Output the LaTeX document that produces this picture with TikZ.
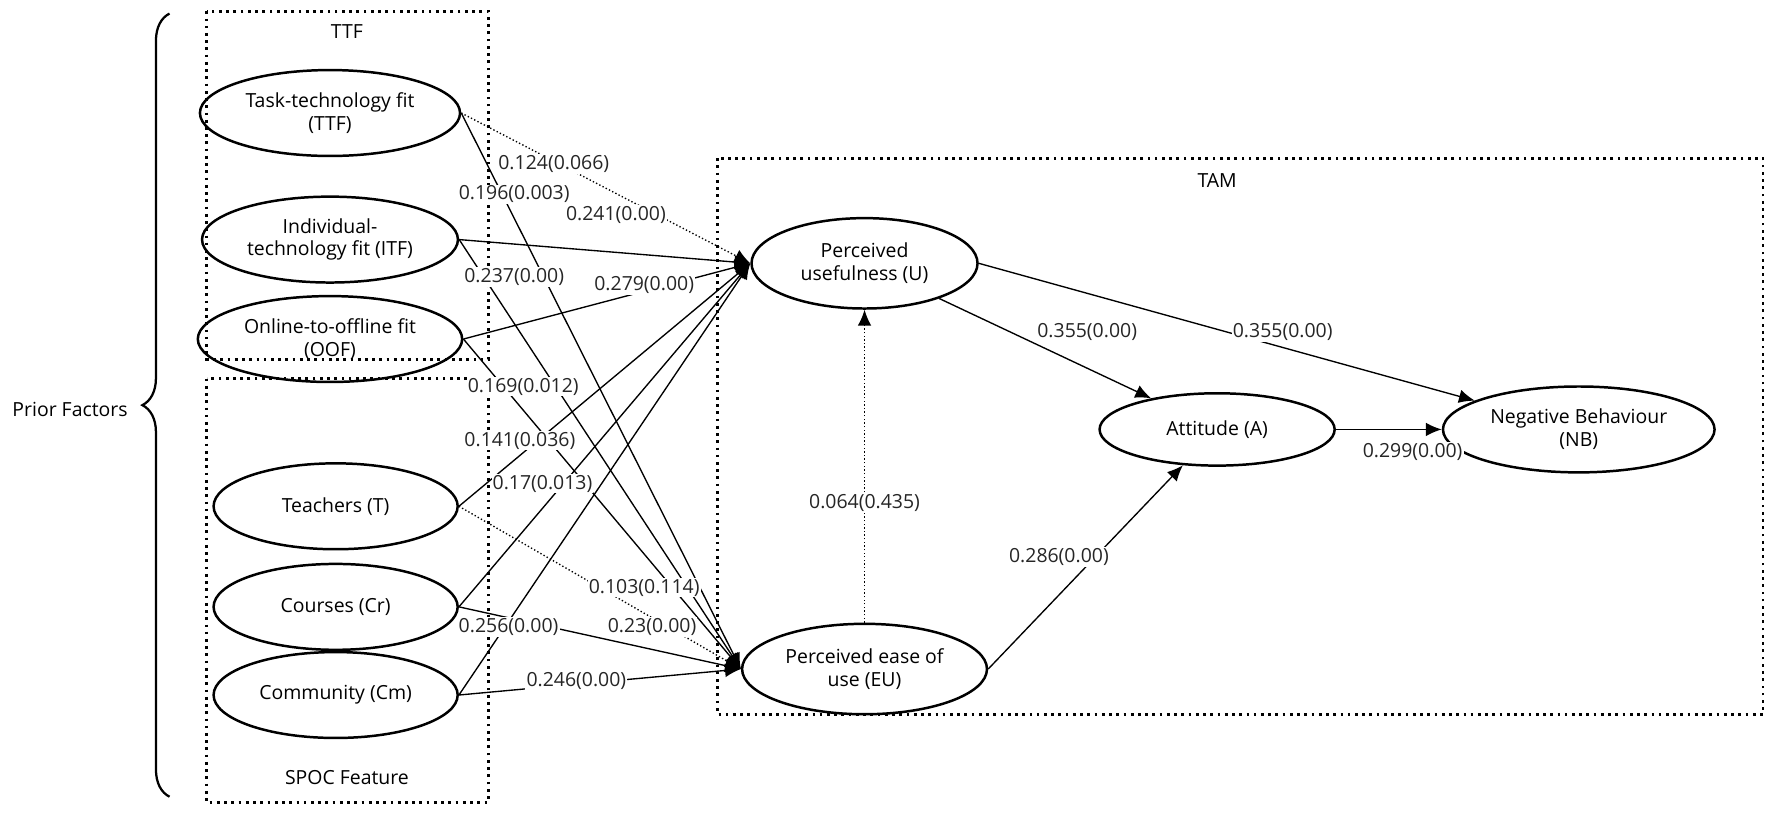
\documentclass[tikz,border=0pt]{standalone}
\usepackage{fontspec}
\setmainfont{Open Sans}
\usetikzlibrary{arrows.meta,shapes.geometric,decorations.pathreplacing}
\begin{document}
\begin{tikzpicture}[x=0.5pt,y=-0.5pt,font=\fontsize{8.6}{10}\selectfont,
  ell/.style={ellipse,draw,line width=1.1pt,minimum width=#1},
  ell/.default=108pt,
  grp/.style={draw,line width=1.2pt,dotted},
  lnk/.style={-{Latex[length=7pt,width=6pt]},line width=0.6pt},
  dlnk/.style={lnk,densely dotted},
  lab/.style={fill=white,inner sep=0.5pt,text=black!85}]
\useasboundingbox (0,0) rectangle (1568,722);
\draw[grp] (183,10) rectangle (432,318);
\draw[grp] (183,335) rectangle (432,710);
\draw[grp] (635,140) rectangle (1560,632);
\node (ttfl) at (307,28) {TTF};
\node (spocl) at (307,688) {SPOC Feature};
\node (taml) at (1077,160) {TAM};
\draw[line width=1pt,decorate,decoration={brace,amplitude=12pt}] (150,705) -- (150,12);
\node (pf) at (62,362) {Prior Factors};
\node[ell,minimum height=38pt,align=center] (TTF) at (292,100) {Task-technology fit\\(TTF)};
\node[ell,minimum height=38pt,align=center] (ITF) at (292,212) {Individual-\\technology fit (ITF)};
\node[ell,minimum height=38pt,align=center] (OOF) at (292,300) {Online-to-offline fit\\(OOF)};
\node[ell,minimum height=38pt] (T) at (297,448) {Teachers (T)};
\node[ell,minimum height=38pt] (Cr) at (297,537) {Courses (Cr)};
\node[ell,minimum height=38pt] (Cm) at (297,615) {Community (Cm)};
\node[ell=100pt,minimum height=40pt,align=center] (U) at (765,233) {Perceived\\usefulness (U)};
\node[ell=100pt,minimum height=40pt,align=center] (EU) at (765,592) {Perceived ease of\\use (EU)};
\node[ell=104pt,minimum height=32pt] (A) at (1077,380) {Attitude (A)};
\node[ell=104pt,minimum height=38pt,align=center] (NB) at (1397,380) {Negative Behaviour\\(NB)};
\draw[dlnk] (TTF.east) -- (U.west);
\draw[lnk] (TTF.east) -- (EU.west);
\draw[lnk] (ITF.east) -- (U.west);
\draw[lnk] (ITF.east) -- (EU.west);
\draw[lnk] (OOF.east) -- (U.west);
\draw[lnk] (OOF.east) -- (EU.west);
\draw[lnk] (T.east) -- (U.west);
\draw[dlnk] (T.east) -- (EU.west);
\draw[lnk] (Cr.east) -- (U.west);
\draw[lnk] (Cr.east) -- (EU.west);
\draw[lnk] (Cm.east) -- (U.west);
\draw[lnk] (Cm.east) -- (EU.west);
\draw[dlnk] (EU.north) -- (U.south);
\draw[lnk] (U) -- (A);
\draw[lnk] (U.east) -- (NB);
\draw[lnk] (EU.east) -- (A);
\draw[lnk] (A) -- (NB);
\node[lab] (l1) at (490,145) {0.124(0.066)};
\node[lab] (l2) at (455,172) {0.196(0.003)};
\node[lab] (l3) at (545,190) {0.241(0.00)};
\node[lab] (l4) at (455,245) {0.237(0.00)};
\node[lab] (l5) at (570,252) {0.279(0.00)};
\node[lab] (l6) at (463,342) {0.169(0.012)};
\node[lab] (l7) at (460,390) {0.141(0.036)};
\node[lab] (l8) at (570,520) {0.103(0.114)};
\node[lab] (l9) at (480,428) {0.17(0.013)};
\node[lab] (l10) at (577,555) {0.23(0.00)};
\node[lab] (l11) at (450,555) {0.256(0.00)};
\node[lab] (l12) at (510,603) {0.246(0.00)};
\node[lab] (l13) at (765,445) {0.064(0.435)};
\node[lab] (l14) at (962,294) {0.355(0.00)};
\node[lab] (l15) at (1135,294) {0.355(0.00)};
\node[lab] (l16) at (937,493) {0.286(0.00)};
\node[lab] (l17) at (1250,400) {0.299(0.00)};
\end{tikzpicture}
\end{document}
